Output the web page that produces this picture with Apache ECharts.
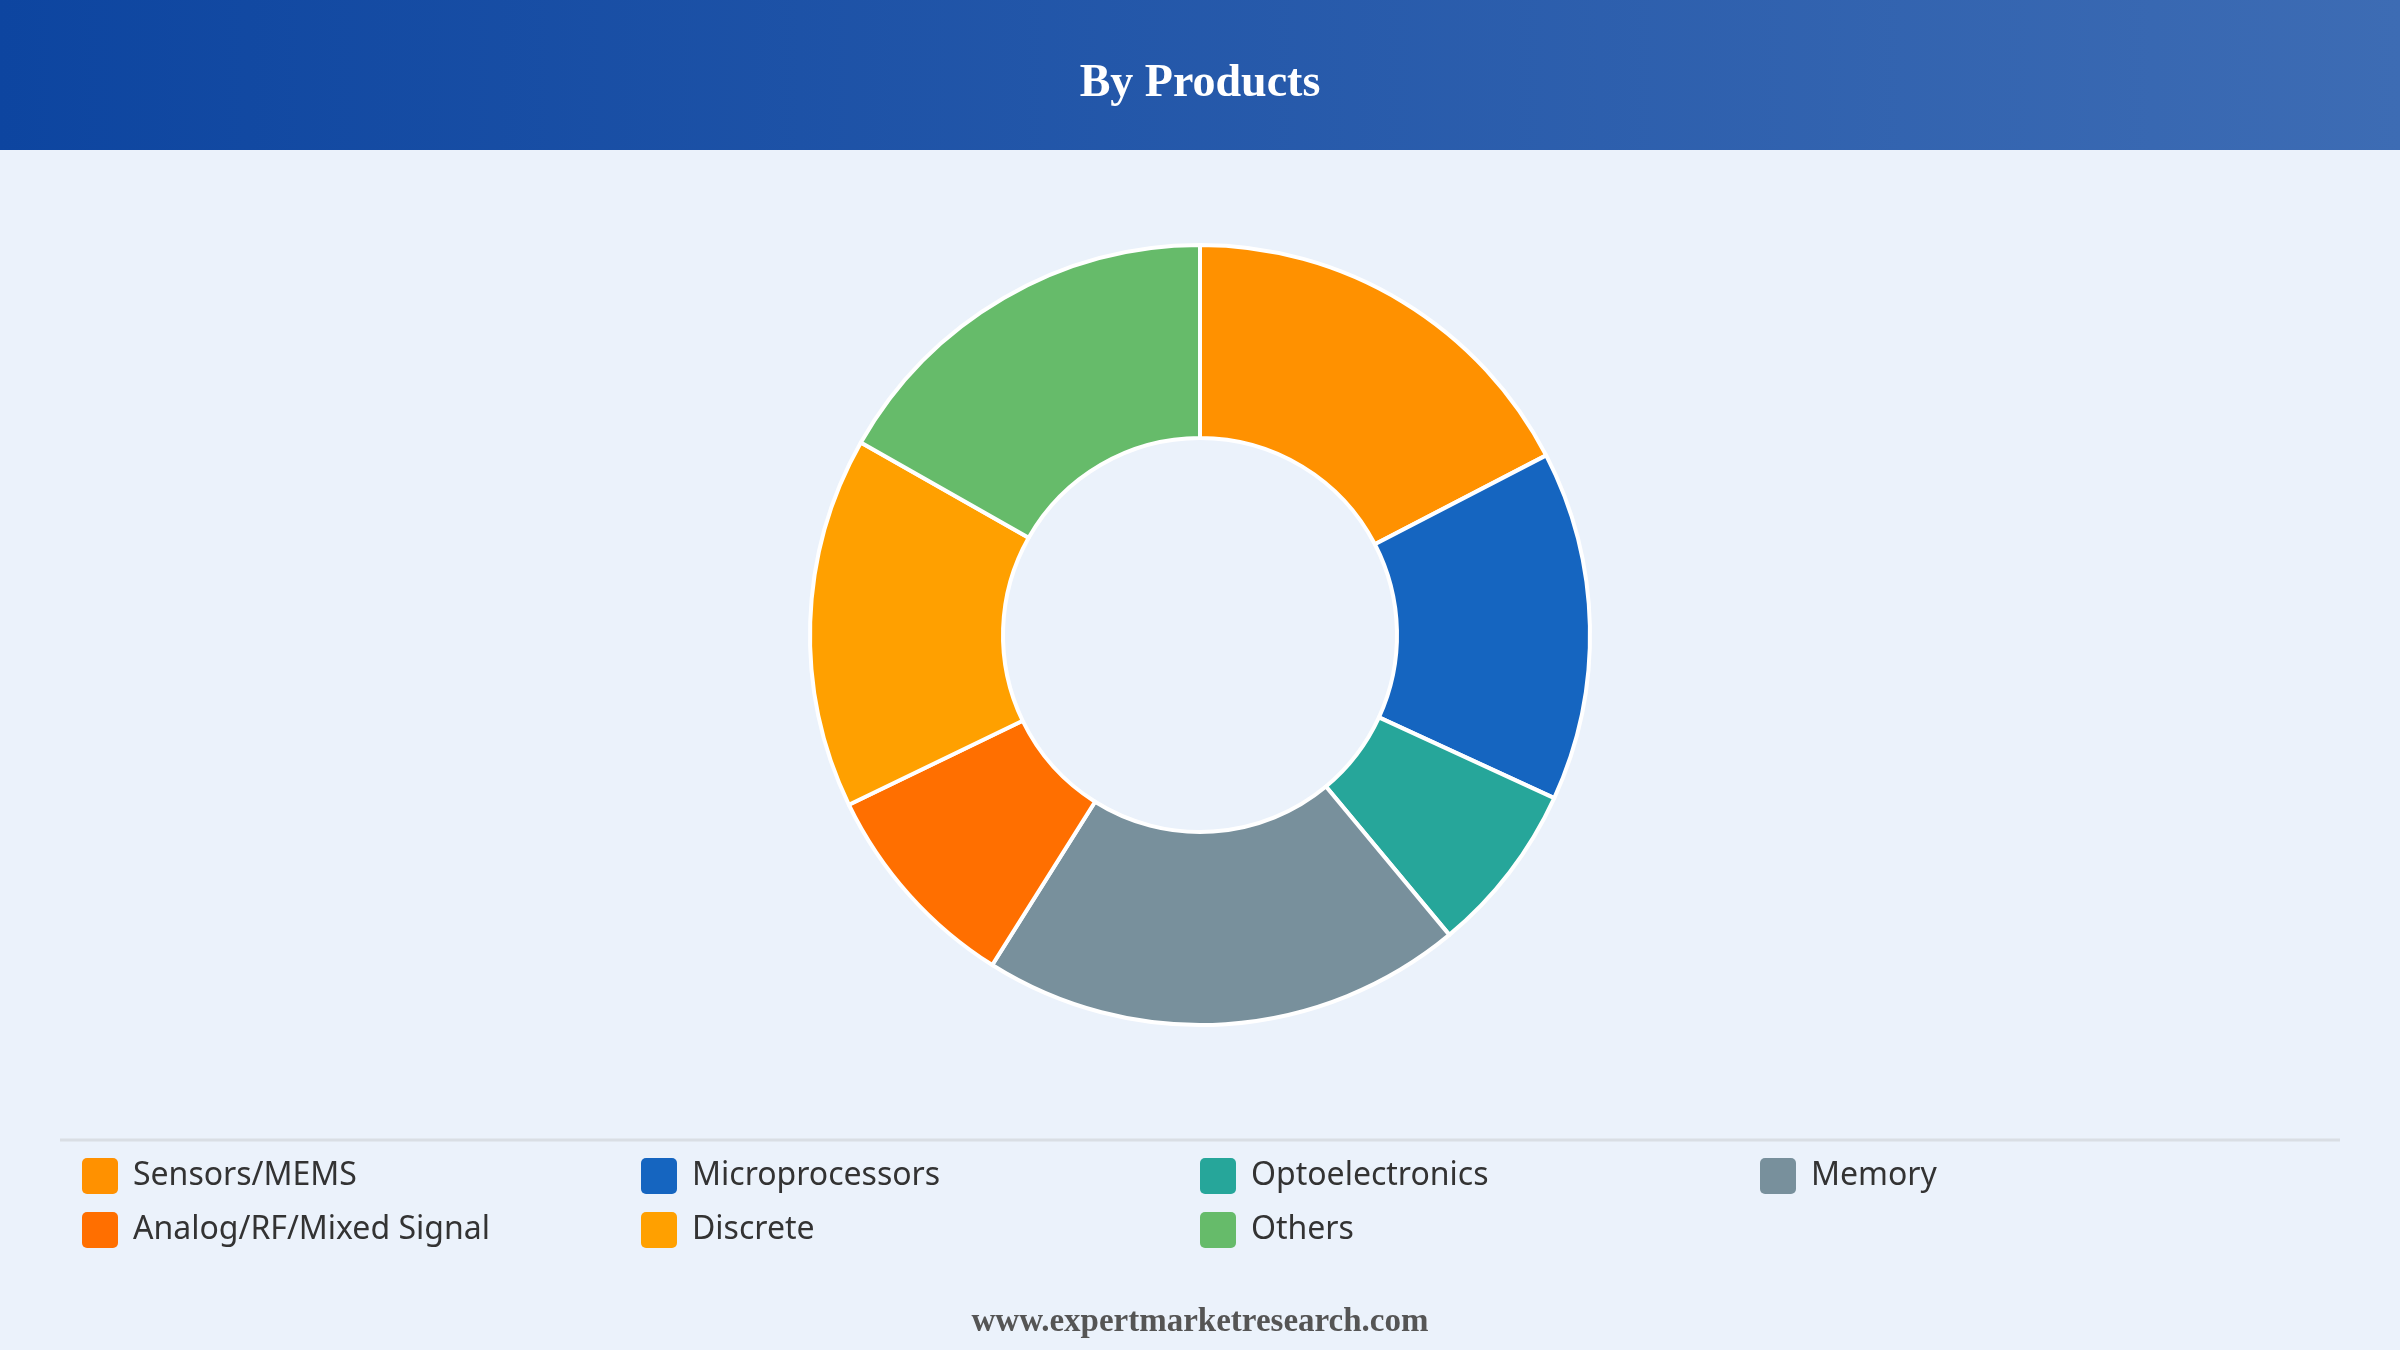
<!DOCTYPE html>
<html>
<head>
<meta charset="utf-8">
<title>By Products</title>
<script src="https://cdn.jsdelivr.net/npm/echarts@6/dist/echarts.min.js"></script>
<style>
  html, body { margin: 0; padding: 0; background: #EBF2FB; }
  #chart { width: 2400px; height: 1350px; }
</style>
</head>
<body>
<div id="chart"></div>
<script>
// data (share of the ring, %)
const categories = ['Sensors/MEMS', 'Microprocessors', 'Optoelectronics', 'Memory', 'Analog/RF/Mixed Signal', 'Discrete', 'Others']
const shares = [17.4, 14.5, 7.1, 20.0, 8.9, 15.4, 16.8]
const colors = ['#FF9100', '#1565C0', '#26A69A', '#78909C', '#FF6F00', '#FFA000', '#66BB6A']

// legend grid: 4 columns, 2 rows
const legendCols = [82, 641, 1200, 1760]
const legendRows = [1158, 1212]

const roundIcon = 'path://M5,0H31A5,5,0,0,1,36,5V31A5,5,0,0,1,31,36H5A5,5,0,0,1,0,31V5A5,5,0,0,1,5,0Z'

const chart = echarts.init(document.getElementById('chart'))

let legends = []
for (let i = 0; i < categories.length; i++) {
  legends.push({
    data: [categories[i]],
    left: legendCols[i % 4],
    top: legendRows[Math.floor(i / 4)],
    padding: 0,
    icon: roundIcon,
    itemWidth: 36,
    itemHeight: 36,
    selectedMode: false,
    itemStyle: { borderWidth: 0 },
    textStyle: {
      color: '#333333',
      fontSize: 32,
      fontFamily: 'Noto Sans',
      padding: [0, 0, 0, 10]
    }
  })
}

const option = {
  backgroundColor: '#EBF2FB',
  color: colors,
  title: [{
    text: 'By Products',
    left: 'center',
    top: 56,
    textStyle: {
      color: '#ffffff',
      fontSize: 46,
      fontWeight: 'bold',
      fontFamily: 'Liberation Serif'
    }
  }, {
    text: 'www.expertmarketresearch.com',
    left: 'center',
    top: 1301,
    textStyle: {
      color: '#555555',
      fontSize: 33,
      fontWeight: 'bold',
      fontFamily: 'Liberation Serif'
    }
  }],
  graphic: [{
    type: 'rect',
    z: -1,
    shape: { x: 0, y: 0, width: 2400, height: 150 },
    style: {
      fill: new echarts.graphic.LinearGradient(0, 0, 1, 0, [
        { offset: 0, color: '#0D45A0' },
        { offset: 1, color: '#3D6CB4' }
      ])
    }
  }, {
    type: 'line',
    shape: { x1: 60, y1: 1140, x2: 2340, y2: 1140 },
    style: { stroke: '#D9DEE4', lineWidth: 3 }
  }],
  legend: legends,
  series: [{
    type: 'pie',
    center: [1200, 635],
    radius: [197, 390],
    startAngle: 90,
    clockwise: true,
    label: { show: false },
    labelLine: { show: false },
    emphasis: { disabled: true },
    itemStyle: {
      borderColor: '#ffffff',
      borderWidth: 4
    },
    data: categories.map((name, i) => ({ name: name, value: shares[i] }))
  }]
}

chart.setOption(option)
</script>
</body>
</html>
